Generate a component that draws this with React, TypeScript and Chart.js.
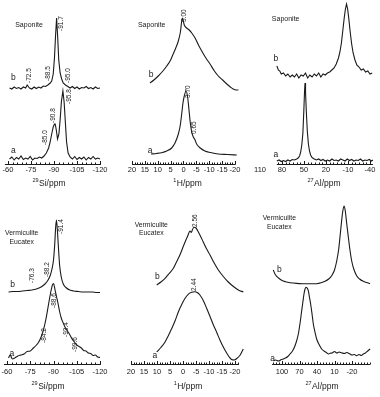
import React, { useEffect, useRef } from "react";
import { Chart, registerables } from "chart.js";
Chart.register(...registerables);

const INK = "#1a1a1a";
const FONT = "'Liberation Sans', Arial, 'DejaVu Sans', sans-serif";

// ---------- 29Si, Saponite ----------
const siSapB_ppm = [-61, -62.5, -64, -65.5, -67, -68.5, -70, -71.5, -72.5, -74, -75.5, -77, -78.5, -80, -81.5, -83, -84.5, -86, -87.5, -88.5, -89.5, -90.3, -91, -91.7, -92.4, -93.1, -94, -95, -96, -97.5, -99, -100.5, -102, -103.5, -105, -106.5, -108, -109.5, -111, -112.5, -114, -115.5, -117, -118.5, -120];
const siSapB_int = [76, 75, 77, 75.5, 76.5, 75, 77, 76, 79, 76, 75, 77, 75.5, 77, 76, 78, 77.5, 79, 81, 83, 90, 106, 128, 146, 127, 104, 91, 85, 81, 79, 77.5, 76, 77.5, 75.5, 77, 75, 76.5, 76, 77.5, 75.5, 76.5, 75, 77, 75.5, 76];
const siSapA_ppm = [-61, -62.5, -64, -65.5, -67, -68.5, -70, -71.5, -73, -74.5, -76, -77.5, -79, -80.5, -82, -83.5, -85, -86.5, -87.5, -88.5, -89.5, -90.3, -90.8, -91.5, -92.3, -93.2, -94, -94.8, -95.8, -96.6, -97.4, -98.2, -99.2, -100.5, -102, -103.5, -105, -106.5, -108, -109.5, -111, -112.5, -114, -115.5, -117, -118.5, -120];
const siSapA_int = [5, 7, 4, 6.5, 5, 8, 4.5, 6, 5, 7.5, 4, 6, 5.5, 7, 6, 8, 11, 16, 22, 30, 37, 40, 40, 34, 25, 30, 44, 62, 73, 62, 42, 22, 11, 7, 5, 7.5, 4.5, 6.5, 5, 7, 4, 6.5, 5, 7.5, 5, 6, 5];
const siSapPeaks: [string, number, number][] = [["-91.7", -94.9, 133], ["-88.5", -86.0, 83], ["-72.5", -73.9, 81], ["-95.0", -99.3, 81], ["-85.0", -84.1, 19], ["-90.8", -89.6, 41], ["-95.8", -99.8, 60]];

// ---------- 1H, Saponite ----------
const hSapB_ppm = [13.0, 11.5, 9.8, 8.0, 6.5, 5.0, 4.0, 3.0, 2.0, 1.2, 0.45, -0.3, -1.2, -2.2, -3.2, -4.5, -5.8, -7.1, -8.7, -10.3, -12.0, -13.5, -15.2, -16.8, -18.2, -19.3, -20.5, -21.3];
const hSapB_int = [81, 84, 88, 93, 98, 104, 110, 116, 123, 132, 146, 139, 136, 134, 131, 126, 119, 113, 106, 100, 93, 88, 84, 80, 77, 75, 74, 74];
const hSapA_ppm = [12.6, 10.5, 8.5, 6.5, 4.6, 3.3, 2.0, 1.3, 0.7, 0.2, -0.3, -1.0, -1.6, -2.1, -2.6, -3.2, -3.8, -4.4, -5.1, -6.5, -8.3, -10.5, -13.5, -17, -20.7];
const hSapA_int = [10, 10.5, 11.3, 13, 16, 21, 30, 38, 50, 61, 68, 73, 67, 55, 42, 32, 27, 24.5, 20, 16, 13, 11.5, 10, 9.5, 9];
const hSapPeaks: [string, number, number][] = [["5.00", -0.3, 142], ["3.70", -1.9, 66], ["0.65", -4.3, 30]];

// ---------- 27Al, Saponite ----------
const alSapB_ppm = [87, 85, 83, 81, 78, 75, 72, 69, 66, 63, 60, 57, 54, 51, 48, 45, 42, 39, 36, 33, 30, 27, 24, 21, 18, 15, 12, 9, 6, 3, 1, -1, -3, -5, -6.5, -8, -9.5, -11, -13, -15, -17, -19.5, -22, -25, -28, -31, -34, -37, -40, -43];
const alSapB_int = [98, 94, 93, 90, 91, 88, 90, 87, 89, 87, 90, 86, 89, 88, 91, 86, 89, 87, 90, 88, 91, 87, 90, 89, 91, 92, 94, 96, 100, 106, 112, 121, 134, 147, 155, 160, 155, 146, 132, 120, 111, 104, 99, 97, 94, 95, 92, 93, 90, 91];
const alSapA_ppm = [87, 84, 81, 78, 75, 72, 69, 66, 63, 60, 58, 56, 54.5, 53, 51.5, 50.3, 49.3, 48.6, 47.9, 46.8, 45.5, 44, 42.5, 41, 39, 36, 33, 30, 27, 24, 21, 18, 15, 12, 9, 6, 3, 0, -3, -6, -9, -12, -15, -18, -21, -24, -27, -30, -33, -36, -39, -42, -44];
const alSapA_int = [3, 4, 2.5, 3.5, 2.5, 4, 3, 4.5, 4, 5, 6, 8, 12, 19, 31, 52, 72, 81, 72, 52, 33, 20, 13, 9, 6.5, 5, 4, 5, 3.5, 4.5, 3, 4, 3, 5, 3.5, 4, 3, 5, 4, 3, 5, 3.5, 4.5, 3, 4, 3.5, 5, 3, 4, 3.5, 4.5, 3, 4];

// ---------- 29Si, Vermiculite Eucatex ----------
const siVerB_ppm = [-61, -64, -67, -70, -73, -76, -79, -82, -84.5, -86.5, -88, -89, -90, -90.8, -91.4, -91.9, -92.5, -93.2, -94, -95, -96.3, -98, -100.5, -103, -106, -109, -112, -115, -118, -120];
const siVerB_int = [72, 72.5, 72.5, 73, 73.5, 74, 75, 77, 80, 84, 89, 95, 104, 120, 137, 144, 134, 116, 98, 87, 80, 76.5, 74, 73, 72.5, 72, 72, 72, 71.5, 71.5];
const siVerA_ppm = [-61, -62, -63.5, -65, -67, -69, -71, -73, -75, -77, -79, -80.5, -82, -83.5, -85, -86.5, -87.5, -88.5, -89.3, -90, -91, -92, -93, -94, -95, -96, -97.4, -99, -100.6, -102, -103.5, -105, -106.5, -108, -109.5, -111, -112.5, -114, -115.5, -117, -118.5, -120];
const siVerA_int = [6, 9, 5, 6, 8, 9, 10, 12.5, 13, 16, 19, 22, 27, 34, 44, 57, 66, 74, 79, 80.5, 74, 67, 60, 52, 46, 42, 37, 33, 29, 25, 22, 19, 17.5, 16, 13.5, 13, 11, 10.5, 8.5, 9, 7, 6.5];
const siVerPeaks: [string, number, number][] = [["-91.4", -95.2, 130], ["-88.2", -86.0, 87], ["-76.3", -76.3, 81], ["-88.6", -90.5, 56], ["-84.2", -83.9, 21], ["-93.4", -98.1, 27], ["-99.6", -103.9, 12]];

// ---------- 1H, Vermiculite Eucatex ----------
const hVerB_ppm = [10.1, 8.5, 6.9, 5.3, 3.7, 2.5, 1.2, 0.2, -0.8, -1.8, -2.7, -3.2, -3.6, -4.2, -5.0, -5.9, -6.8, -7.8, -9.0, -10.4, -12.0, -13.6, -15.5, -17.4, -19.4, -21.3, -23.2];
const hVerB_int = [79, 82, 85.7, 90.5, 95.7, 102, 109, 115.5, 122, 128, 133, 131.5, 134, 136.7, 136, 132, 127.5, 122, 115.5, 109, 101, 94, 87.5, 82, 77.5, 74, 72];
const hVerA_ppm = [10.1, 8.5, 6.9, 5.6, 4.3, 3, 1.8, 0.5, -0.8, -2.0, -3.3, -4.6, -5.5, -6.5, -7.8, -9.1, -10.4, -11.7, -13.0, -14.2, -15.5, -16.8, -17.8, -18.7, -19.7, -20.7, -22, -23.2];
const hVerA_int = [12, 16.5, 22, 28.5, 35.7, 43.5, 52, 59.5, 65.7, 69.7, 71.7, 72.3, 71.5, 69, 63.5, 55.7, 47.5, 39, 31.5, 24, 17, 11, 7, 4.5, 4, 5.5, 9, 15];
const hVerPeaks: [string, number, number][] = [["2.56", -4.7, 137], ["2.44", -4.5, 73]];

// ---------- 27Al, Vermiculite Eucatex ----------
const alVerB_ppm = [115, 112, 109, 105, 100.6, 94, 86, 75, 63.5, 52, 40.6, 33, 26.3, 20, 14.8, 10, 6.2, 3, 0.6, -2, -4, -6.3, -8.5, -11, -13.7, -16.5, -19.5, -23, -28, -33, -39.4, -45, -51];
const alVerB_int = [94, 90, 87.7, 85.5, 83.7, 82.3, 81.3, 80.6, 80.3, 80.2, 80.3, 81.2, 82.7, 85, 88.3, 94, 103, 114, 127, 142, 152, 158, 153, 140, 127, 114, 103, 95, 88.3, 85, 82.7, 81.5, 80.3];
const alVerA_ppm = [115, 111, 106, 101, 97.7, 94, 90, 86.3, 82, 77.7, 74.5, 72, 69, 66.3, 64, 62.3, 60.5, 58.9, 57, 54.9, 53, 50.9, 48.5, 46.3, 43.5, 40.6, 36, 32, 28, 24, 20, 17.7, 14, 10, 6, 2, 0.6, -3, -7, -11, -16.6, -20, -24, -28, -32, -36, -39.4, -43, -47, -51];
const alVerA_int = [3.3, 4, 3, 4.5, 5, 6, 7.5, 10, 13, 18.3, 24, 30, 41, 53, 63, 70, 75, 76.7, 76, 73.3, 67, 60, 50, 40, 32, 25, 19, 15, 13, 11.5, 10, 10.7, 11, 12.5, 11, 12, 11.7, 11, 10.5, 11.5, 10, 9, 9.5, 8.3, 9.5, 8.5, 10, 11, 13, 15];

// ---------- axis ticks ----------
const siTicks = [-60, -75, -90, -105, -120];
const hTicks = [20, 15, 10, 5, 0, -5, -10, -15, -20];
const alSapTicks = [110, 80, 50, 20, -10, -40];
const alVerTicks = [100, 70, 40, 10, -20];

type Txt = { t: string; x: number; y: number; size: number; align: CanvasTextAlign };
interface Trace { ppm: number[]; int: number[]; smooth: boolean }
interface PanelCfg {
  left: number; top: number; width: number; height: number;
  pad: { left: number; right: number; top: number; bottom: number };
  xMax: number; xMin: number; yMax: number;
  traces: Trace[];
  ticks: number[]; minorStep: number; axisFrom: number; axisTo: number; tickPad: number;
  titleSup: string; titleMain: string; titleAt: number; titleDy: number;
  texts: Txt[]; peaks: [string, number, number][];
}

const LAB = 8.5;
const NAME = 7;
const NAME2 = 6.8;
const PEAKFONT = 6.5;

const PANELS: PanelCfg[] = [
  {
    left: -8, top: 0, width: 124, height: 194, pad: { left: 12, right: 12, top: 1, bottom: 4 },
    xMax: -57.39, xMin: -122.61, yMax: 163,
    traces: [{ ppm: siSapB_ppm, int: siSapB_int, smooth: false }, { ppm: siSapA_ppm, int: siSapA_int, smooth: false }],
    ticks: siTicks, minorStep: 3, axisFrom: -58, axisTo: -120.5, tickPad: 1.5,
    titleSup: "29", titleMain: "Si/ppm", titleAt: -86.7, titleDy: 19.5,
    texts: [
      { t: "Saponite", x: -73.7, y: 139, size: NAME, align: "center" },
      { t: "b", x: -63.5, y: 86, size: LAB, align: "center" },
      { t: "a", x: -63.5, y: 13, size: LAB, align: "center" },
    ],
    peaks: siSapPeaks,
  },
  {
    left: 116, top: 0, width: 136, height: 194, pad: { left: 12, right: 12, top: 1, bottom: 4 },
    xMax: 21.55, xMin: -21.94, yMax: 163,
    traces: [{ ppm: hSapB_ppm, int: hSapB_int, smooth: true }, { ppm: hSapA_ppm, int: hSapA_int, smooth: true }],
    ticks: hTicks, minorStep: 1, axisFrom: 20, axisTo: -20, tickPad: 1.5,
    titleSup: "1", titleMain: "H/ppm", titleAt: -1.55, titleDy: 19.5,
    texts: [
      { t: "Saponite", x: 12.35, y: 139, size: NAME, align: "center" },
      { t: "b", x: 12.6, y: 89, size: LAB, align: "center" },
      { t: "a", x: 13, y: 13, size: LAB, align: "center" },
    ],
    peaks: hSapPeaks,
  },
  {
    left: 244, top: 0, width: 143, height: 194, pad: { left: 12, right: 12, top: 1, bottom: 4 },
    xMax: 115.45, xMin: -46.82, yMax: 163,
    traces: [{ ppm: alSapB_ppm, int: alSapB_int, smooth: false }, { ppm: alSapA_ppm, int: alSapA_int, smooth: false }],
    ticks: alSapTicks, minorStep: 5, axisFrom: 87, axisTo: -44, tickPad: 1.5,
    titleSup: "27", titleMain: "Al/ppm", titleAt: 22.7, titleDy: 19.5,
    texts: [
      { t: "Saponite", x: 75.0, y: 145, size: NAME, align: "center" },
      { t: "b", x: 88.2, y: 105, size: LAB, align: "center" },
      { t: "a", x: 88.2, y: 9, size: LAB, align: "center" },
    ],
    peaks: [],
  },
  {
    left: -9, top: 196, width: 125, height: 199, pad: { left: 12, right: 12, top: 4, bottom: 5 },
    xMax: -57.42, xMin: -122.58, yMax: 164,
    traces: [{ ppm: siVerB_ppm, int: siVerB_int, smooth: true }, { ppm: siVerA_ppm, int: siVerA_int, smooth: true }],
    ticks: siTicks, minorStep: 3, axisFrom: -58, axisTo: -120.5, tickPad: 3,
    titleSup: "29", titleMain: "Si/ppm", titleAt: -86.5, titleDy: 22.5,
    texts: [
      { t: "Vermiculite", x: -69.5, y: 131, size: NAME2, align: "center" },
      { t: "Eucatex", x: -69.5, y: 122.3, size: NAME2, align: "center" },
      { t: "b", x: -63.7, y: 79, size: LAB, align: "center" },
      { t: "a", x: -63.1, y: 10, size: LAB, align: "center" },
    ],
    peaks: siVerPeaks,
  },
  {
    left: 115, top: 196, width: 142, height: 199, pad: { left: 12, right: 12, top: 4, bottom: 5 },
    xMax: 21.54, xMin: -23.85, yMax: 164,
    traces: [{ ppm: hVerB_ppm, int: hVerB_int, smooth: true }, { ppm: hVerA_ppm, int: hVerA_int, smooth: true }],
    ticks: hTicks, minorStep: 1, axisFrom: 20, axisTo: -21.5, tickPad: 3,
    titleSup: "1", titleMain: "H/ppm", titleAt: -1.9, titleDy: 22.5,
    texts: [
      { t: "Vermiculite", x: 12.2, y: 139, size: NAME2, align: "center" },
      { t: "Eucatex", x: 12.2, y: 130.7, size: NAME2, align: "center" },
      { t: "b", x: 9.9, y: 87, size: LAB, align: "center" },
      { t: "a", x: 10.8, y: 8, size: LAB, align: "center" },
    ],
    peaks: hVerPeaks,
  },
  {
    left: 258, top: 196, width: 128, height: 199, pad: { left: 12, right: 12, top: 4, bottom: 5 },
    xMax: 120.57, xMin: -57.71, yMax: 164,
    traces: [{ ppm: alVerB_ppm, int: alVerB_int, smooth: true }, { ppm: alVerA_ppm, int: alVerA_int, smooth: true }],
    ticks: alVerTicks, minorStep: 5, axisFrom: 117, axisTo: -51, tickPad: 3,
    titleSup: "27", titleMain: "Al/ppm", titleAt: 31.4, titleDy: 22.5,
    texts: [
      { t: "Vermiculite", x: 104.6, y: 145.7, size: NAME2, align: "center" },
      { t: "Eucatex", x: 104.6, y: 137.3, size: NAME2, align: "center" },
      { t: "b", x: 104.6, y: 94, size: LAB, align: "center" },
      { t: "a", x: 116, y: 5.7, size: LAB, align: "center" },
    ],
    peaks: [],
  },
];

function makeAnnot(cfg: PanelCfg) {
  return {
    id: "annot",
    afterDraw(chart: any) {
      const { ctx, chartArea } = chart;
      const xs = chart.scales.x;
      const ys = chart.scales.y;
      const y0 = Math.round(chartArea.bottom) + 0.5;
      ctx.save();
      ctx.strokeStyle = INK;
      ctx.fillStyle = INK;
      ctx.lineWidth = 1;
      // axis line
      ctx.beginPath();
      ctx.moveTo(xs.getPixelForValue(cfg.axisFrom), y0);
      ctx.lineTo(xs.getPixelForValue(cfg.axisTo), y0);
      ctx.stroke();
      // minor ticks
      const lo = Math.min(cfg.axisFrom, cfg.axisTo);
      const hi = Math.max(cfg.axisFrom, cfg.axisTo);
      ctx.beginPath();
      for (let v = Math.ceil(lo / cfg.minorStep) * cfg.minorStep; v <= hi; v += cfg.minorStep) {
        const px = Math.round(xs.getPixelForValue(v)) + 0.5;
        ctx.moveTo(px, y0);
        ctx.lineTo(px, y0 - 2);
      }
      ctx.stroke();
      // major ticks
      ctx.beginPath();
      cfg.ticks.forEach((v) => {
        if (v < lo - 0.01 || v > hi + 0.01) return;
        const px = Math.round(xs.getPixelForValue(v)) + 0.5;
        ctx.moveTo(px, y0);
        ctx.lineTo(px, y0 - 3.5);
      });
      ctx.stroke();
      // axis title with superscript isotope number
      const cx = xs.getPixelForValue(cfg.titleAt);
      const cy = chartArea.bottom + cfg.titleDy;
      ctx.textBaseline = "middle";
      ctx.textAlign = "left";
      ctx.font = `8.5px ${FONT}`;
      const wm = ctx.measureText(cfg.titleMain).width;
      ctx.font = `5.5px ${FONT}`;
      const wsup = ctx.measureText(cfg.titleSup).width;
      const x0 = cx - (wm + wsup + 0.5) / 2;
      ctx.fillText(cfg.titleSup, x0, cy - 3);
      ctx.font = `8.5px ${FONT}`;
      ctx.fillText(cfg.titleMain, x0 + wsup + 0.5, cy);
      // plain texts
      cfg.texts.forEach((t) => {
        ctx.font = `${t.size}px ${FONT}`;
        ctx.textAlign = t.align;
        ctx.textBaseline = "middle";
        ctx.fillText(t.t, xs.getPixelForValue(t.x), ys.getPixelForValue(t.y));
      });
      // rotated peak labels
      ctx.font = `${PEAKFONT}px ${FONT}`;
      ctx.textAlign = "left";
      ctx.textBaseline = "middle";
      cfg.peaks.forEach(([t, x, y]) => {
        ctx.save();
        ctx.translate(xs.getPixelForValue(x), ys.getPixelForValue(y));
        ctx.rotate(-Math.PI / 2);
        ctx.fillText(t, 0, 0);
        ctx.restore();
      });
      ctx.restore();
    },
  };
}

function Panel({ cfg }: { cfg: PanelCfg }) {
  const ref = useRef<HTMLCanvasElement | null>(null);
  useEffect(() => {
    if (!ref.current) return;
    const chart = new Chart(ref.current, {
      type: "line",
      data: {
        datasets: cfg.traces.map((tr) => ({
          data: tr.ppm.map((p, i) => ({ x: p, y: tr.int[i] })),
          borderColor: INK,
          borderWidth: 1.1,
          pointRadius: 0,
          fill: false,
          tension: 0,
          cubicInterpolationMode: tr.smooth ? "monotone" : "default",
          clip: false,
        })),
      } as any,
      options: {
        responsive: false,
        animation: false,
        devicePixelRatio: 1,
        events: [],
        layout: { padding: cfg.pad },
        plugins: { legend: { display: false }, tooltip: { enabled: false }, title: { display: false } },
        scales: {
          x: {
            type: "linear",
            reverse: true,
            min: cfg.xMin,
            max: cfg.xMax,
            grid: { display: false, drawTicks: false },
            border: { display: false },
            title: { display: false },
            ticks: {
              autoSkip: false,
              maxRotation: 0,
              minRotation: 0,
              padding: cfg.tickPad,
              color: INK,
              font: { family: FONT, size: 7.5 },
              callback: (v: any) => String(v),
            },
            afterBuildTicks: (s: any) => {
              s.ticks = cfg.ticks.map((v) => ({ value: v }));
            },
            afterFit: (s: any) => {
              s.height = 26;
              s.paddingLeft = 0;
              s.paddingRight = 0;
            },
          },
          y: { type: "linear", display: false, min: 0, max: cfg.yMax },
        },
      } as any,
      plugins: [makeAnnot(cfg)],
    });
    return () => chart.destroy();
  }, [cfg]);
  return (
    <canvas
      ref={ref}
      width={cfg.width}
      height={cfg.height}
      style={{ position: "absolute", left: cfg.left, top: cfg.top, width: cfg.width, height: cfg.height }}
    />
  );
}

export default function App() {
  return (
    <div
      style={{ position: "fixed", left: 0, top: 0, width: 380, height: 397, overflow: "hidden", background: "#ffffff" }}
    >
      {PANELS.map((p, i) => (
        <Panel key={i} cfg={p} />
      ))}
    </div>
  );
}
